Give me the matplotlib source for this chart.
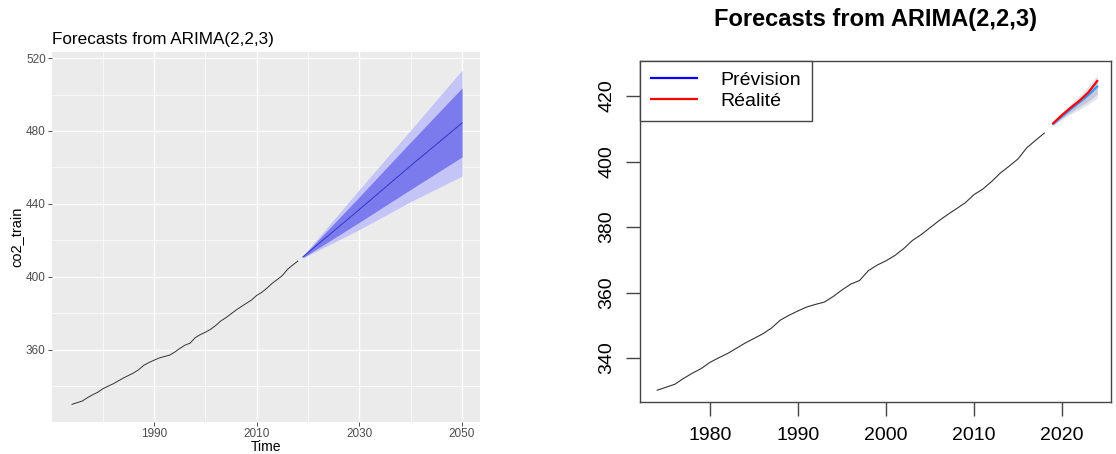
import matplotlib
matplotlib.use("Agg")
import matplotlib.pyplot as plt
from matplotlib.ticker import FixedLocator

plt.rcParams['font.family'] = ['Liberation Sans', 'DejaVu Sans']

# annual CO2 (ppm) used for training
years = list(range(1974, 2019))
co2 = [330.2, 331.1, 332.0, 333.8, 335.4, 336.8, 338.7, 340.1, 341.4, 343.0,
       344.6, 346.0, 347.4, 349.2, 351.6, 353.1, 354.4, 355.6, 356.4, 357.1,
       358.8, 360.8, 362.6, 363.7, 366.7, 368.4, 369.7, 371.3, 373.4, 375.9,
       377.7, 379.8, 381.9, 383.8, 385.6, 387.4, 389.9, 391.6, 393.9, 396.5,
       398.6, 400.8, 404.2, 406.5, 408.7]

# long forecast (left panel)
fc_years = [2019, 2030, 2040, 2050]
fc_mean = [411.0, 437.0, 461.0, 484.4]
fc_lo80 = [410.6, 430.0, 448.0, 465.8]
fc_hi80 = [411.4, 444.0, 474.0, 503.6]
fc_lo95 = [410.4, 426.0, 441.3, 455.3]
fc_hi95 = [411.6, 448.0, 480.5, 513.4]

# short forecast vs observed (right panel)
pred_years = [2019, 2020, 2021, 2022, 2023, 2024]
pred = [411.5, 413.8, 416.0, 418.1, 420.3, 422.9]
pred_lo80 = [411.2, 413.2, 415.0, 416.8, 418.5, 420.6]
pred_hi80 = [411.8, 414.4, 417.0, 419.4, 422.1, 425.2]
pred_lo95 = [411.1, 412.9, 414.5, 416.0, 417.5, 419.4]
pred_hi95 = [411.9, 414.7, 417.5, 420.2, 423.1, 426.4]
real = [411.7, 414.2, 416.5, 418.6, 421.1, 424.6]

fig = plt.figure(figsize=(11.16, 4.54), dpi=100)

# ---- left panel, ggplot look ----
ax1 = fig.add_axes([52/1116, 32/454, 428/1116, 370/454])
ax1.set_facecolor('#EBEBEB')
ax1.fill_between(fc_years, fc_lo95, fc_hi95, color='#C4C4F6', lw=0)
ax1.fill_between(fc_years, fc_lo80, fc_hi80, color='#7B7BEE', lw=0)
ax1.plot(fc_years, fc_mean, color='#3535C8', lw=0.7)
ax1.plot(years, co2, color='#333333', lw=0.7)

ax1.set_xlim(1970.1, 2053.5)
ax1.set_ylim(320.5, 523.3)
ax1.xaxis.set_major_locator(FixedLocator([1990, 2010, 2030, 2050]))
ax1.xaxis.set_minor_locator(FixedLocator([1980, 2000, 2020, 2040]))
ax1.yaxis.set_major_locator(FixedLocator([360, 400, 440, 480, 520]))
ax1.yaxis.set_minor_locator(FixedLocator([340, 380, 420, 460, 500]))
ax1.grid(which='major', color='white', lw=1.0)
ax1.grid(which='minor', color='white', lw=0.5)
ax1.set_axisbelow(True)
for s in ax1.spines.values():
    s.set_visible(False)
ax1.tick_params(which='major', length=3, width=0.6, color='#333333',
                labelsize=8.5, labelcolor='#4D4D4D', pad=1.5)
ax1.tick_params(which='minor', length=0)
ax1.set_xlabel('Time', fontsize=10, labelpad=0)
ax1.set_ylabel('co2_train', fontsize=10.5, labelpad=2)
ax1.set_title('Forecasts from ARIMA(2,2,3)', loc='left', fontsize=12.3, pad=6)

# ---- right panel, base R look ----
ax2 = fig.add_axes([640/1116, 52/454, 471/1116, 341/454])
ax2.fill_between(pred_years, pred_lo95, pred_hi95, color='#E4E4EC', lw=0)
ax2.fill_between(pred_years, pred_lo80, pred_hi80, color='#C8C8DC', lw=0)
ax2.plot(years, co2, color='#333333', lw=0.8)
ax2.plot(pred_years, pred, color='#3399FF', lw=1.6)
ax2.plot(pred_years, real, color='red', lw=1.6)

ax2.set_xlim(1972.05, 2025.57)
ax2.set_ylim(326.6, 430.7)
ax2.set_xticks([1980, 1990, 2000, 2010, 2020])
ax2.set_yticks([340, 360, 380, 400, 420])
for s in ax2.spines.values():
    s.set_color('#444444')
    s.set_linewidth(1.0)
ax2.tick_params(length=10, width=1, color='#444444', labelsize=14, pad=8)
plt.setp(ax2.get_yticklabels(), rotation=90, va='center')
ax2.set_title('Forecasts from ARIMA(2,2,3)', fontsize=17, fontweight='bold', pad=25)

h_blue, = ax2.plot([], [], color='blue', lw=1.6)
h_red, = ax2.plot([], [], color='red', lw=1.6)
leg = ax2.legend([h_blue, h_red], ['Prévision', 'Réalité'], loc='upper left',
                 bbox_to_anchor=(0, 1), borderaxespad=0, fontsize=14,
                 fancybox=False, framealpha=1, edgecolor='#444444',
                 handlelength=2.4, handletextpad=1.2, labelspacing=0.15,
                 borderpad=0.55)
leg.get_frame().set_linewidth(1.0)

fig.savefig('out.png', dpi=100)
